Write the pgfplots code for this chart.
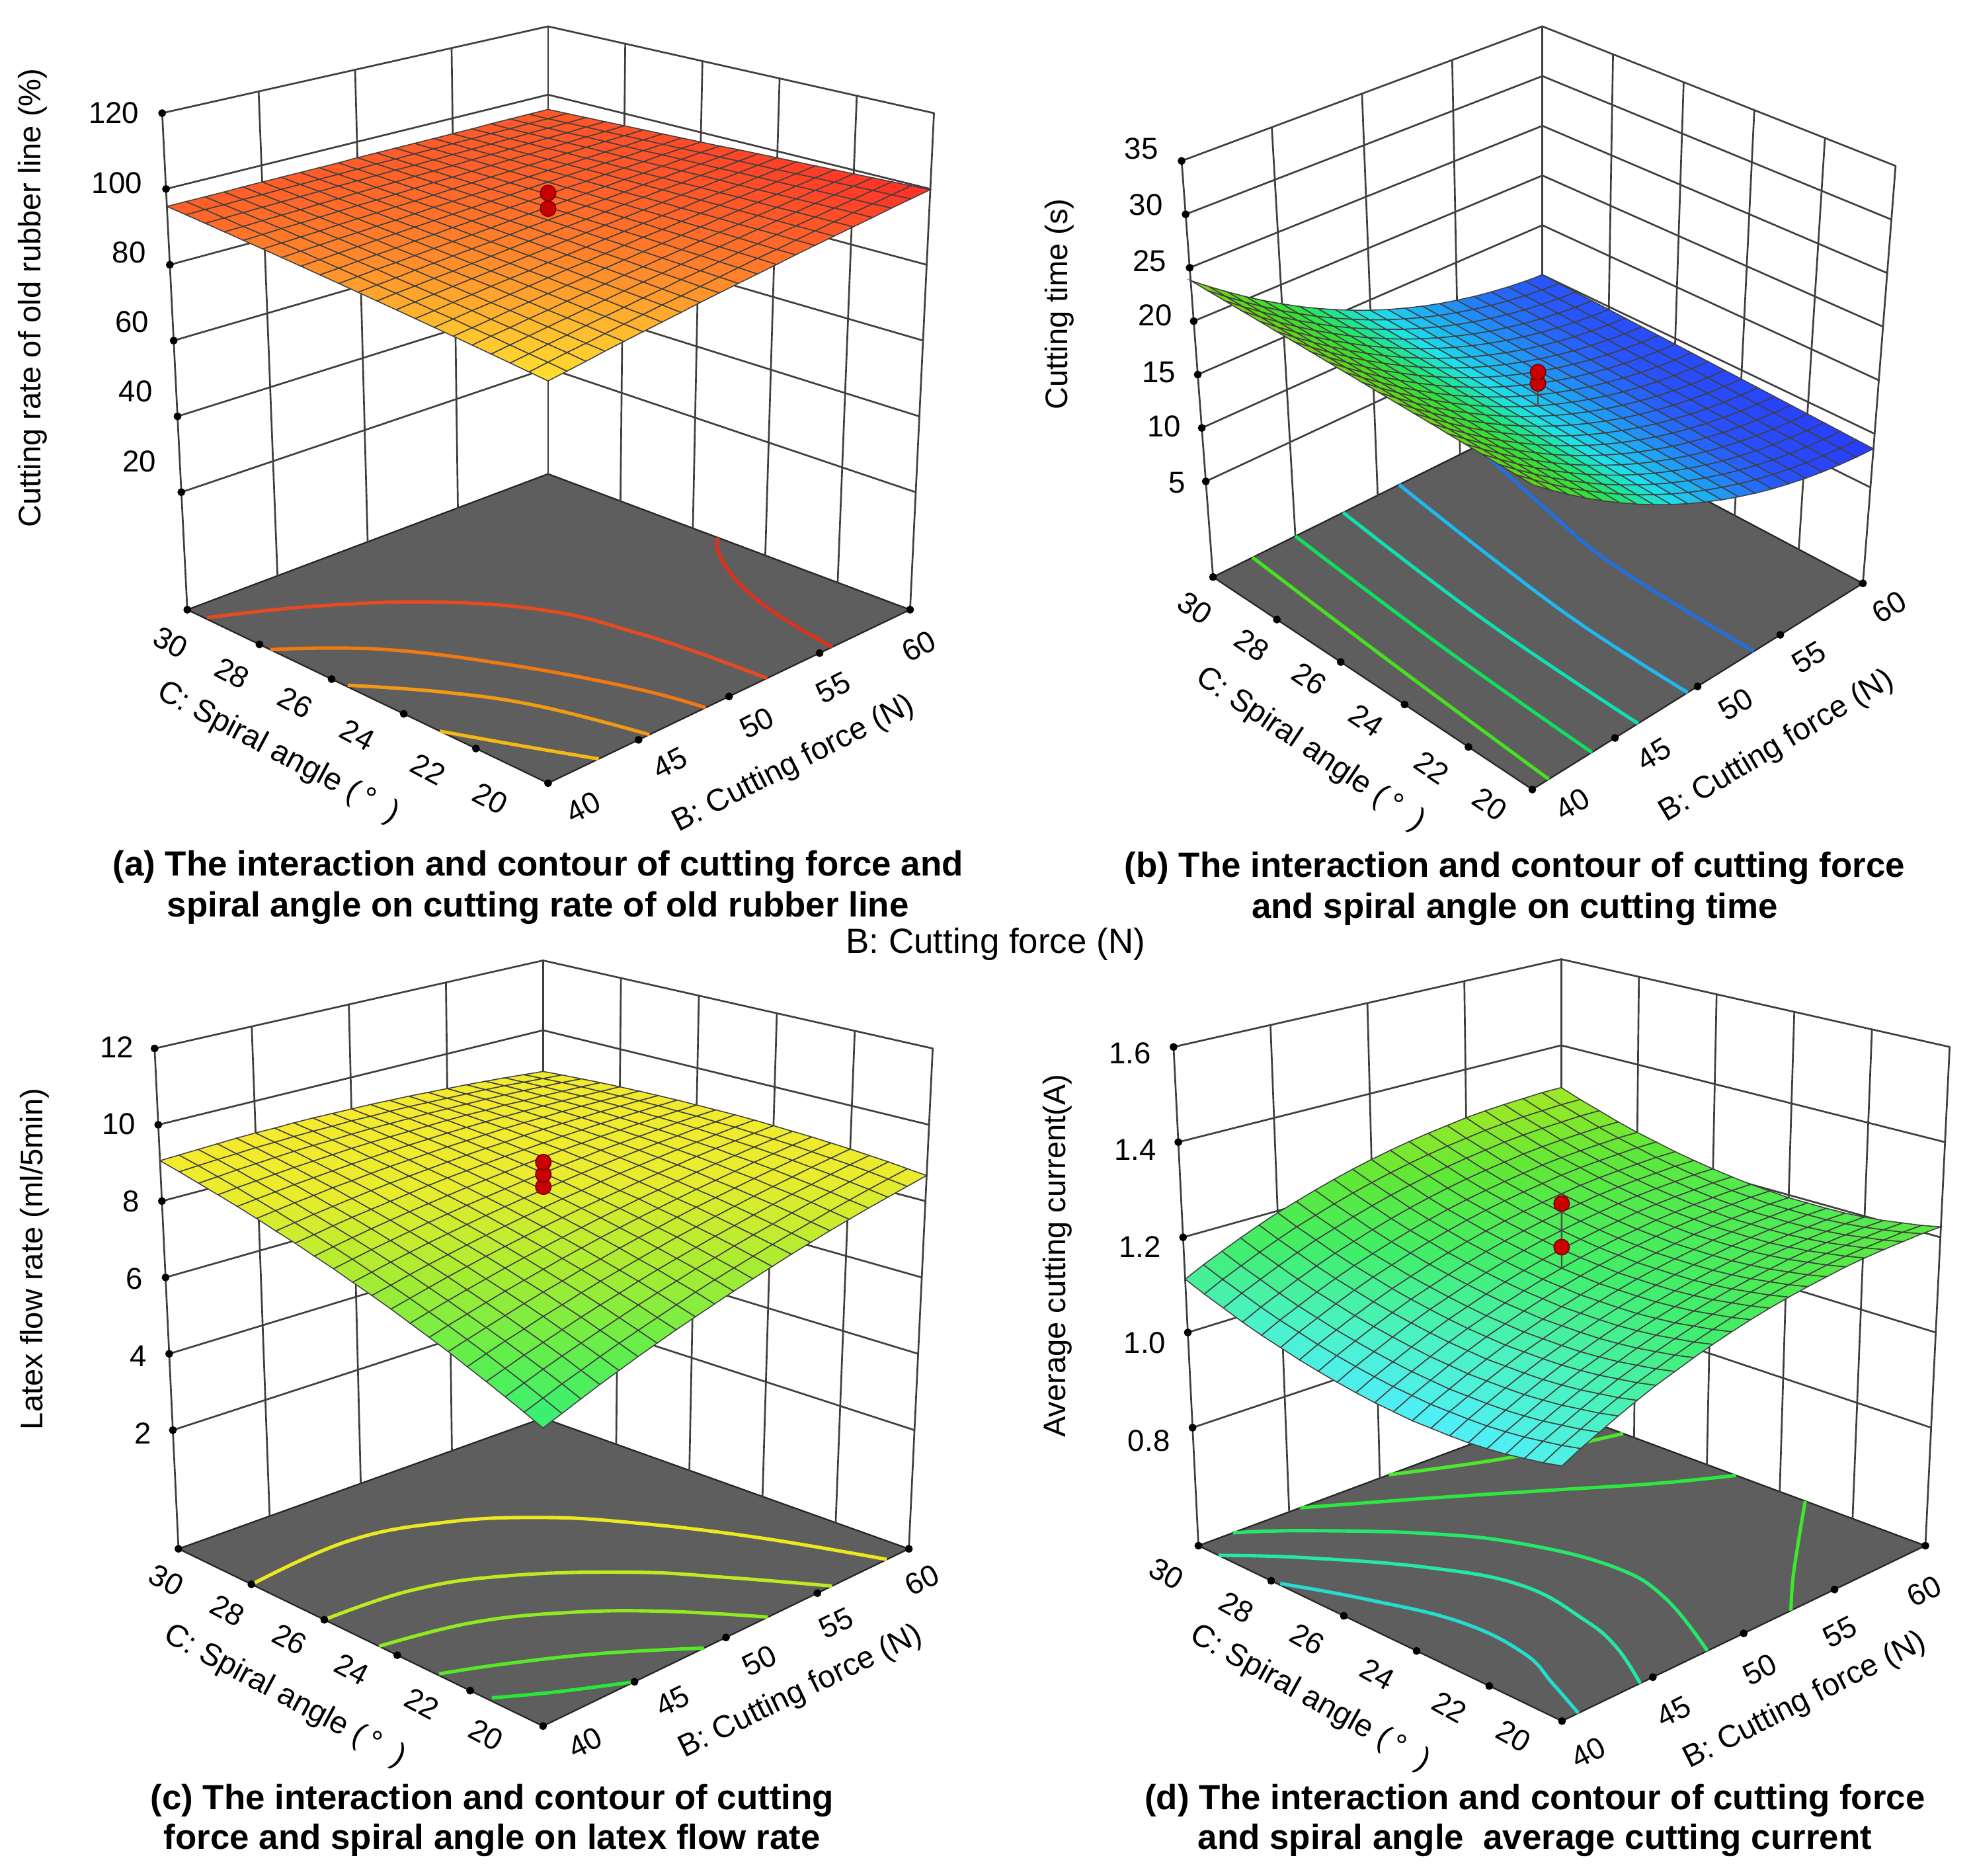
\documentclass[border=0pt]{standalone}
\usepackage{fontspec}
\setmainfont{Liberation Sans}
\usepackage{pgfplots}
\usepackage{pgfplotstable}
\pgfplotsset{compat=1.18}

\newcommand\mkfun[9]{\pgfkeys{/pgf/declare function={#1(\pa,\pb,\pc)=(1-\pc)*((1-\pa)*(1-\pb)*(#2)+\pa*(1-\pb)*(#3)+(1-\pa)*\pb*(#4)+\pa*\pb*(#5))+\pc*((1-\pa)*(1-\pb)*(#6)+\pa*(1-\pb)*(#7)+(1-\pa)*\pb*(#8)+\pa*\pb*(#9));}}}
\mkfun{aX}{436}{724}{149}{436}{436}{743}{129}{436}
\mkfun{aY}{623}{485}{485}{377}{179}{90}{90}{21}
\mkfun{bX}{1219}{1482}{965}{1227}{1220}{1508}{940}{1227}
\mkfun{bY}{628}{464}{459}{329}{270}{132}{128}{21}
\mkfun{cX}{432}{723}{142}{432}{432}{742}{123}{432}
\mkfun{cY}{1373}{1232}{1232}{1128}{934}{834}{834}{764}
\mkfun{dX}{1242.6}{1531.7}{953.4}{1242}{1242.5}{1551}{933.6}{1242}
\mkfun{dY}{1369}{1229.5}{1229.5}{1122}{926}{832.8}{832.8}{763}

\definecolor{floorgray}{RGB}{94,94,94}
\definecolor{gridgray}{RGB}{62,62,62}
\definecolor{ptred}{RGB}{200,0,0}

\pgfplotsset{
 colormap={cmA}{rgb255=(255,225,50) rgb255=(255,185,45) rgb255=(255,135,42) rgb255=(255,90,40) rgb255=(255,45,40)},
 colormap={cmB}{rgb255=(40,50,250) rgb255=(40,85,250) rgb255=(30,165,245) rgb255=(30,225,235) rgb255=(30,230,130) rgb255=(50,225,60) rgb255=(70,220,35) rgb255=(100,215,20) rgb255=(130,215,20)},
 colormap={cmC}{rgb255=(50,240,120) rgb255=(100,238,75) rgb255=(165,236,50) rgb255=(232,236,45) rgb255=(255,232,45)},
 colormap={cmD}{rgb255=(80,238,255) rgb255=(75,242,195) rgb255=(65,238,105) rgb255=(95,232,55) rgb255=(170,232,35)},
 table/faz/.style={header=false,row sep=crcr,
  x expr={\pn X((\thisrowno{0}-40)/20,(\thisrowno{1}-20)/10,(\thisrowno{2}-(\ZF))/\ZS)},
  y expr={\pn Y((\thisrowno{0}-40)/20,(\thisrowno{1}-20)/10,(\thisrowno{2}-(\ZF))/\ZS)}},
 table/fa/.style={header=false,row sep=crcr,
  x expr={\pn X((\thisrowno{0}-40)/20,(\thisrowno{1}-20)/10,0)},
  y expr={\pn Y((\thisrowno{0}-40)/20,(\thisrowno{1}-20)/10,0)}},
 table/grid/.style={x index=0,y index=0,z index=0,
  x expr={\pn X((\coordindex-21*floor((\coordindex+0.5)/21))/20,floor((\coordindex+0.5)/21)/20,(\thisrowno{0}-(\ZF))/\ZS)},
  y expr={\pn Y((\coordindex-21*floor((\coordindex+0.5)/21))/20,floor((\coordindex+0.5)/21)/20,(\thisrowno{0}-(\ZF))/\ZS)}},
 panel/.style={scale only axis,width=392pt,height=373pt,anchor=south west,hide axis,clip=false,
  y dir=reverse,view={0}{90},enlargelimits=false},
 gridl/.style={draw=gridgray,line width=.7pt,mark=none,line cap=round},
 cont/.style={line width=1.35pt,mark=none,smooth,tension=0.7,draw={#1}},
 srf/.style={surf,shader=faceted,faceted color=black!75,line width=.4pt,mesh/cols=21,mesh/ordering=x varies},
}
\newcommand\tickfont{\fontsize{12}{14}\selectfont}
\newcommand\lab[4]{\node[rotate=#3,font=\tickfont,inner sep=0pt] at (axis cs:#1,#2){#4};}
\newcommand\tlab[4]{\node[rotate=#3,font=\fontsize{12.4}{14}\selectfont,inner sep=0pt] at (axis cs:#1,#2){#4};}
\newcommand\ttl[3]{\node[font=\fontsize{13.9}{16}\selectfont\bfseries,inner sep=0pt] at (axis cs:#1,#2){#3};}
\newcommand\spiral{C: Spiral angle (\,°\ \ )}

% zf, ztop, list of z ticks
\newcommand\walls[3]{%
 \addplot[fill=floorgray,draw=black!85,line width=.6pt,mark=none] table[faz]{40 20 #1\\60 20 #1\\60 30 #1\\40 30 #1\\40 20 #1\\};
 \pgfplotsinvokeforeach{40,45,50,55,60}{\addplot[gridl] table[faz]{##1 30 #1\\##1 30 #2\\};}
 \pgfplotsinvokeforeach{20,22,24,26,28}{\addplot[gridl] table[faz]{60 ##1 #1\\60 ##1 #2\\};}
 \pgfplotsinvokeforeach{#3,#2}{\addplot[gridl] table[faz]{40 30 ##1\\60 30 ##1\\60 20 ##1\\};
   \addplot[only marks,mark=*,mark size=1.35pt,black] table[faz]{40 30 ##1\\};}
 \addplot[only marks,mark=*,mark size=1.35pt,black] table[fa]{40 30\\40 28\\40 26\\40 24\\40 22\\40 20\\45 20\\50 20\\55 20\\60 20\\};
}
\newcommand\redpts[1]{\addplot[only marks,mark=*,mark size=3.1pt,draw=red!45!black,fill=ptred,line width=.4pt] table[faz]{#1};}

\pgfplotstableread[row sep=crcr,header=false]{
83.4\\84.2\\85.0\\85.9\\86.7\\87.5\\88.3\\89.1\\90.0\\90.8\\91.6\\92.4\\93.2\\94.1\\94.9\\95.7\\96.5\\97.3\\98.2\\99.0\\99.8\\
84.0\\84.8\\85.6\\86.3\\87.1\\87.9\\88.7\\89.5\\90.2\\91.0\\91.8\\92.6\\93.4\\94.1\\94.9\\95.7\\96.5\\97.3\\98.0\\98.8\\99.6\\
84.6\\85.3\\86.1\\86.8\\87.6\\88.3\\89.0\\89.8\\90.5\\91.3\\92.0\\92.7\\93.5\\94.2\\95.0\\95.7\\96.4\\97.2\\97.9\\98.7\\99.4\\
85.2\\85.9\\86.6\\87.3\\88.0\\88.7\\89.4\\90.1\\90.8\\91.5\\92.2\\92.9\\93.6\\94.3\\95.0\\95.7\\96.4\\97.1\\97.8\\98.5\\99.2\\
85.8\\86.5\\87.1\\87.8\\88.4\\89.1\\89.8\\90.4\\91.1\\91.7\\92.4\\93.0\\93.7\\94.4\\95.0\\95.7\\96.3\\97.0\\97.7\\98.3\\99.0\\
86.4\\87.0\\87.6\\88.3\\88.9\\89.5\\90.1\\90.7\\91.4\\92.0\\92.6\\93.2\\93.8\\94.4\\95.1\\95.7\\96.3\\96.9\\97.5\\98.2\\98.8\\
87.0\\87.6\\88.2\\88.7\\89.3\\89.9\\90.5\\91.1\\91.6\\92.2\\92.8\\93.4\\93.9\\94.5\\95.1\\95.7\\96.3\\96.8\\97.4\\98.0\\98.6\\
87.6\\88.1\\88.7\\89.2\\89.8\\90.3\\90.8\\91.4\\91.9\\92.4\\93.0\\93.5\\94.1\\94.6\\95.1\\95.7\\96.2\\96.7\\97.3\\97.8\\98.4\\
88.2\\88.7\\89.2\\89.7\\90.2\\90.7\\91.2\\91.7\\92.2\\92.7\\93.2\\93.7\\94.2\\94.7\\95.2\\95.7\\96.2\\96.7\\97.2\\97.7\\98.2\\
88.8\\89.3\\89.7\\90.2\\90.6\\91.1\\91.5\\92.0\\92.5\\92.9\\93.4\\93.8\\94.3\\94.8\\95.2\\95.7\\96.1\\96.6\\97.0\\97.5\\98.0\\
89.4\\89.8\\90.2\\90.7\\91.1\\91.5\\91.9\\92.3\\92.7\\93.2\\93.6\\94.0\\94.4\\94.8\\95.2\\95.7\\96.1\\96.5\\96.9\\97.3\\97.8\\
90.0\\90.4\\90.8\\91.1\\91.5\\91.9\\92.3\\92.6\\93.0\\93.4\\93.8\\94.1\\94.5\\94.9\\95.3\\95.7\\96.0\\96.4\\96.8\\97.2\\97.5\\
90.6\\90.9\\91.3\\91.6\\91.9\\92.3\\92.6\\93.0\\93.3\\93.6\\94.0\\94.3\\94.6\\95.0\\95.3\\95.7\\96.0\\96.3\\96.7\\97.0\\97.3\\
91.2\\91.5\\91.8\\92.1\\92.4\\92.7\\93.0\\93.3\\93.6\\93.9\\94.2\\94.5\\94.8\\95.1\\95.4\\95.7\\96.0\\96.2\\96.5\\96.8\\97.1\\
91.8\\92.1\\92.3\\92.6\\92.8\\93.1\\93.3\\93.6\\93.9\\94.1\\94.4\\94.6\\94.9\\95.1\\95.4\\95.6\\95.9\\96.2\\96.4\\96.7\\96.9\\
92.4\\92.6\\92.8\\93.0\\93.3\\93.5\\93.7\\93.9\\94.1\\94.3\\94.6\\94.8\\95.0\\95.2\\95.4\\95.6\\95.9\\96.1\\96.3\\96.5\\96.7\\
93.0\\93.2\\93.4\\93.5\\93.7\\93.9\\94.1\\94.2\\94.4\\94.6\\94.8\\94.9\\95.1\\95.3\\95.5\\95.6\\95.8\\96.0\\96.2\\96.3\\96.5\\
93.6\\93.7\\93.9\\94.0\\94.1\\94.3\\94.4\\94.6\\94.7\\94.8\\95.0\\95.1\\95.2\\95.4\\95.5\\95.6\\95.8\\95.9\\96.0\\96.2\\96.3\\
94.2\\94.3\\94.4\\94.5\\94.6\\94.7\\94.8\\94.9\\95.0\\95.1\\95.2\\95.2\\95.3\\95.4\\95.5\\95.6\\95.7\\95.8\\95.9\\96.0\\96.1\\
94.8\\94.9\\94.9\\95.0\\95.0\\95.1\\95.1\\95.2\\95.2\\95.3\\95.4\\95.4\\95.5\\95.5\\95.6\\95.6\\95.7\\95.7\\95.8\\95.8\\95.9\\
95.4\\95.4\\95.4\\95.4\\95.5\\95.5\\95.5\\95.5\\95.5\\95.5\\95.6\\95.6\\95.6\\95.6\\95.6\\95.6\\95.6\\95.7\\95.7\\95.7\\95.7\\
}\tabA
\pgfplotstableread[row sep=crcr,header=false]{
22.40\\21.16\\19.98\\18.85\\17.78\\16.78\\15.82\\14.93\\14.10\\13.32\\12.60\\11.94\\11.34\\10.79\\10.30\\9.88\\9.50\\9.19\\8.94\\8.74\\8.60\\
22.47\\21.23\\20.05\\18.92\\17.85\\16.85\\15.89\\15.00\\14.17\\13.39\\12.67\\12.01\\11.41\\10.86\\10.37\\9.95\\9.57\\9.26\\9.01\\8.81\\8.67\\
22.54\\21.30\\20.12\\18.99\\17.92\\16.92\\15.96\\15.07\\14.24\\13.46\\12.74\\12.08\\11.48\\10.93\\10.44\\10.02\\9.64\\9.33\\9.08\\8.88\\8.74\\
22.61\\21.37\\20.19\\19.06\\17.99\\16.99\\16.03\\15.14\\14.31\\13.53\\12.81\\12.15\\11.55\\11.00\\10.51\\10.09\\9.71\\9.40\\9.15\\8.95\\8.81\\
22.68\\21.44\\20.26\\19.13\\18.06\\17.06\\16.10\\15.21\\14.38\\13.60\\12.88\\12.22\\11.62\\11.07\\10.58\\10.16\\9.78\\9.47\\9.22\\9.02\\8.88\\
22.75\\21.51\\20.33\\19.20\\18.13\\17.13\\16.17\\15.28\\14.45\\13.67\\12.95\\12.29\\11.69\\11.14\\10.65\\10.23\\9.85\\9.54\\9.29\\9.09\\8.95\\
22.82\\21.58\\20.40\\19.27\\18.20\\17.20\\16.24\\15.35\\14.52\\13.74\\13.02\\12.36\\11.76\\11.21\\10.72\\10.30\\9.92\\9.61\\9.36\\9.16\\9.02\\
22.89\\21.65\\20.47\\19.34\\18.27\\17.27\\16.31\\15.42\\14.59\\13.81\\13.09\\12.43\\11.83\\11.28\\10.79\\10.37\\9.99\\9.68\\9.43\\9.23\\9.09\\
22.96\\21.72\\20.54\\19.41\\18.34\\17.34\\16.38\\15.49\\14.66\\13.88\\13.16\\12.50\\11.90\\11.35\\10.86\\10.44\\10.06\\9.75\\9.50\\9.30\\9.16\\
23.03\\21.79\\20.61\\19.48\\18.41\\17.41\\16.45\\15.56\\14.73\\13.95\\13.23\\12.57\\11.97\\11.42\\10.93\\10.51\\10.13\\9.82\\9.57\\9.37\\9.23\\
23.10\\21.86\\20.68\\19.55\\18.48\\17.48\\16.52\\15.63\\14.80\\14.02\\13.30\\12.64\\12.04\\11.49\\11.00\\10.58\\10.20\\9.89\\9.64\\9.44\\9.30\\
23.17\\21.93\\20.75\\19.62\\18.55\\17.55\\16.59\\15.70\\14.87\\14.09\\13.37\\12.71\\12.11\\11.56\\11.07\\10.65\\10.27\\9.96\\9.71\\9.51\\9.37\\
23.24\\22.00\\20.82\\19.69\\18.62\\17.62\\16.66\\15.77\\14.94\\14.16\\13.44\\12.78\\12.18\\11.63\\11.14\\10.72\\10.34\\10.03\\9.78\\9.58\\9.44\\
23.31\\22.07\\20.89\\19.76\\18.69\\17.69\\16.73\\15.84\\15.01\\14.23\\13.51\\12.85\\12.25\\11.70\\11.21\\10.79\\10.41\\10.10\\9.85\\9.65\\9.51\\
23.38\\22.14\\20.96\\19.83\\18.76\\17.76\\16.80\\15.91\\15.08\\14.30\\13.58\\12.92\\12.32\\11.77\\11.28\\10.86\\10.48\\10.17\\9.92\\9.72\\9.58\\
23.45\\22.21\\21.03\\19.90\\18.83\\17.83\\16.87\\15.98\\15.15\\14.37\\13.65\\12.99\\12.39\\11.84\\11.35\\10.93\\10.55\\10.24\\9.99\\9.79\\9.65\\
23.52\\22.28\\21.10\\19.97\\18.90\\17.90\\16.94\\16.05\\15.22\\14.44\\13.72\\13.06\\12.46\\11.91\\11.42\\11.00\\10.62\\10.31\\10.06\\9.86\\9.72\\
23.59\\22.35\\21.17\\20.04\\18.97\\17.97\\17.01\\16.12\\15.29\\14.51\\13.79\\13.13\\12.53\\11.98\\11.49\\11.07\\10.69\\10.38\\10.13\\9.93\\9.79\\
23.66\\22.42\\21.24\\20.11\\19.04\\18.04\\17.08\\16.19\\15.36\\14.58\\13.86\\13.20\\12.60\\12.05\\11.56\\11.14\\10.76\\10.45\\10.20\\10.00\\9.86\\
23.73\\22.49\\21.31\\20.18\\19.11\\18.11\\17.15\\16.26\\15.43\\14.65\\13.93\\13.27\\12.67\\12.12\\11.63\\11.21\\10.83\\10.52\\10.27\\10.07\\9.93\\
23.80\\22.56\\21.38\\20.25\\19.18\\18.18\\17.22\\16.33\\15.50\\14.72\\14.00\\13.34\\12.74\\12.19\\11.70\\11.28\\10.90\\10.59\\10.34\\10.14\\10.00\\
}\tabB
\pgfplotstableread[row sep=crcr,header=false]{
5.97\\6.14\\6.31\\6.48\\6.64\\6.80\\6.95\\7.10\\7.24\\7.38\\7.52\\7.65\\7.78\\7.91\\8.03\\8.15\\8.26\\8.37\\8.47\\8.57\\8.67\\
6.17\\6.33\\6.50\\6.65\\6.81\\6.96\\7.10\\7.24\\7.38\\7.52\\7.65\\7.77\\7.89\\8.01\\8.12\\8.23\\8.34\\8.44\\8.54\\8.63\\8.72\\
6.36\\6.52\\6.68\\6.83\\6.97\\7.11\\7.25\\7.39\\7.52\\7.64\\7.77\\7.88\\8.00\\8.11\\8.21\\8.32\\8.42\\8.51\\8.60\\8.69\\8.77\\
6.55\\6.70\\6.85\\6.99\\7.13\\7.27\\7.40\\7.52\\7.65\\7.77\\7.88\\7.99\\8.10\\8.20\\8.30\\8.40\\8.49\\8.57\\8.66\\8.74\\8.81\\
6.73\\6.88\\7.02\\7.15\\7.29\\7.41\\7.54\\7.66\\7.77\\7.88\\7.99\\8.10\\8.19\\8.29\\8.38\\8.47\\8.55\\8.63\\8.71\\8.78\\8.85\\
6.92\\7.05\\7.18\\7.31\\7.44\\7.56\\7.67\\7.79\\7.89\\8.00\\8.10\\8.19\\8.29\\8.38\\8.46\\8.54\\8.62\\8.69\\8.76\\8.82\\8.88\\
7.09\\7.22\\7.34\\7.46\\7.58\\7.69\\7.80\\7.91\\8.01\\8.11\\8.20\\8.29\\8.37\\8.45\\8.53\\8.60\\8.67\\8.74\\8.80\\8.86\\8.91\\
7.26\\7.38\\7.50\\7.61\\7.72\\7.83\\7.93\\8.03\\8.12\\8.21\\8.30\\8.38\\8.46\\8.53\\8.60\\8.67\\8.73\\8.78\\8.84\\8.89\\8.93\\
7.43\\7.54\\7.65\\7.76\\7.86\\7.96\\8.05\\8.14\\8.23\\8.31\\8.39\\8.46\\8.53\\8.60\\8.66\\8.72\\8.78\\8.83\\8.87\\8.91\\8.95\\
7.59\\7.69\\7.80\\7.90\\7.99\\8.08\\8.17\\8.25\\8.33\\8.41\\8.48\\8.54\\8.61\\8.67\\8.72\\8.77\\8.82\\8.86\\8.90\\8.94\\8.97\\
7.74\\7.84\\7.94\\8.03\\8.12\\8.20\\8.28\\8.36\\8.43\\8.50\\8.56\\8.62\\8.68\\8.73\\8.78\\8.82\\8.86\\8.89\\8.93\\8.95\\8.98\\
7.90\\7.99\\8.08\\8.16\\8.24\\8.32\\8.39\\8.46\\8.52\\8.58\\8.64\\8.69\\8.74\\8.78\\8.83\\8.86\\8.89\\8.92\\8.95\\8.97\\8.98\\
8.04\\8.13\\8.21\\8.29\\8.36\\8.43\\8.49\\8.55\\8.61\\8.66\\8.71\\8.76\\8.80\\8.84\\8.87\\8.90\\8.92\\8.94\\8.96\\8.97\\8.98\\
8.19\\8.26\\8.34\\8.41\\8.47\\8.53\\8.59\\8.65\\8.70\\8.74\\8.78\\8.82\\8.85\\8.88\\8.91\\8.93\\8.95\\8.96\\8.97\\8.98\\8.98\\
8.32\\8.39\\8.46\\8.52\\8.58\\8.64\\8.69\\8.73\\8.77\\8.81\\8.85\\8.88\\8.90\\8.93\\8.95\\8.96\\8.97\\8.98\\8.98\\8.98\\8.97\\
8.46\\8.52\\8.58\\8.63\\8.69\\8.73\\8.78\\8.82\\8.85\\8.88\\8.91\\8.93\\8.95\\8.97\\8.98\\8.98\\8.99\\8.99\\8.98\\8.97\\8.96\\
8.59\\8.64\\8.69\\8.74\\8.78\\8.82\\8.86\\8.89\\8.92\\8.94\\8.96\\8.98\\8.99\\9.00\\9.00\\9.00\\9.00\\8.99\\8.98\\8.96\\8.94\\
8.71\\8.76\\8.80\\8.84\\8.88\\8.91\\8.94\\8.97\\8.99\\9.00\\9.01\\9.02\\9.03\\9.03\\9.02\\9.02\\9.00\\8.99\\8.97\\8.95\\8.92\\
8.83\\8.87\\8.91\\8.94\\8.97\\9.00\\9.02\\9.03\\9.05\\9.06\\9.06\\9.06\\9.06\\9.05\\9.04\\9.03\\9.01\\8.99\\8.96\\8.93\\8.89\\
8.95\\8.98\\9.01\\9.03\\9.06\\9.07\\9.09\\9.10\\9.10\\9.11\\9.10\\9.10\\9.09\\9.07\\9.05\\9.03\\9.01\\8.98\\8.94\\8.90\\8.86\\
9.06\\9.08\\9.10\\9.12\\9.14\\9.15\\9.15\\9.16\\9.16\\9.15\\9.14\\9.13\\9.11\\9.09\\9.06\\9.03\\9.00\\8.96\\8.92\\8.87\\8.82\\
}\tabC
\pgfplotstableread[row sep=crcr,header=false]{
1.032\\1.051\\1.068\\1.085\\1.101\\1.116\\1.129\\1.142\\1.154\\1.165\\1.175\\1.184\\1.192\\1.199\\1.205\\1.211\\1.215\\1.218\\1.220\\1.222\\1.222\\
1.024\\1.043\\1.060\\1.077\\1.093\\1.108\\1.121\\1.134\\1.146\\1.157\\1.167\\1.176\\1.184\\1.191\\1.197\\1.203\\1.207\\1.210\\1.212\\1.214\\1.214\\
1.018\\1.037\\1.054\\1.071\\1.087\\1.102\\1.115\\1.128\\1.140\\1.151\\1.161\\1.170\\1.178\\1.185\\1.191\\1.197\\1.201\\1.204\\1.206\\1.208\\1.208\\
1.012\\1.031\\1.048\\1.065\\1.081\\1.096\\1.109\\1.122\\1.134\\1.145\\1.155\\1.164\\1.172\\1.179\\1.185\\1.191\\1.195\\1.198\\1.200\\1.202\\1.202\\
1.008\\1.027\\1.044\\1.061\\1.077\\1.092\\1.105\\1.118\\1.130\\1.141\\1.151\\1.160\\1.168\\1.175\\1.181\\1.187\\1.191\\1.194\\1.196\\1.198\\1.198\\
1.005\\1.024\\1.041\\1.058\\1.074\\1.089\\1.102\\1.115\\1.127\\1.138\\1.148\\1.157\\1.165\\1.172\\1.178\\1.184\\1.188\\1.191\\1.193\\1.195\\1.195\\
1.004\\1.023\\1.040\\1.057\\1.073\\1.088\\1.101\\1.114\\1.126\\1.137\\1.147\\1.156\\1.164\\1.171\\1.177\\1.183\\1.187\\1.190\\1.192\\1.194\\1.194\\
1.004\\1.023\\1.040\\1.057\\1.073\\1.088\\1.101\\1.114\\1.126\\1.137\\1.147\\1.156\\1.164\\1.171\\1.177\\1.183\\1.187\\1.190\\1.192\\1.194\\1.194\\
1.004\\1.023\\1.040\\1.057\\1.073\\1.088\\1.101\\1.114\\1.126\\1.137\\1.147\\1.156\\1.164\\1.171\\1.177\\1.183\\1.187\\1.190\\1.192\\1.194\\1.194\\
1.007\\1.026\\1.043\\1.060\\1.076\\1.091\\1.104\\1.117\\1.129\\1.140\\1.150\\1.159\\1.167\\1.174\\1.180\\1.186\\1.190\\1.193\\1.195\\1.197\\1.197\\
1.010\\1.029\\1.046\\1.063\\1.079\\1.094\\1.107\\1.120\\1.132\\1.143\\1.153\\1.162\\1.170\\1.177\\1.183\\1.189\\1.193\\1.196\\1.198\\1.200\\1.200\\
1.015\\1.034\\1.051\\1.068\\1.084\\1.099\\1.112\\1.125\\1.137\\1.148\\1.158\\1.167\\1.175\\1.182\\1.188\\1.194\\1.198\\1.201\\1.203\\1.205\\1.205\\
1.021\\1.040\\1.057\\1.074\\1.090\\1.105\\1.118\\1.131\\1.143\\1.154\\1.164\\1.173\\1.181\\1.188\\1.194\\1.200\\1.204\\1.207\\1.209\\1.211\\1.211\\
1.028\\1.047\\1.064\\1.081\\1.097\\1.112\\1.125\\1.138\\1.150\\1.161\\1.171\\1.180\\1.188\\1.195\\1.201\\1.207\\1.211\\1.214\\1.216\\1.218\\1.218\\
1.036\\1.055\\1.072\\1.089\\1.105\\1.120\\1.133\\1.146\\1.158\\1.169\\1.179\\1.188\\1.196\\1.203\\1.209\\1.215\\1.219\\1.222\\1.224\\1.226\\1.226\\
1.046\\1.065\\1.082\\1.099\\1.115\\1.130\\1.143\\1.156\\1.168\\1.179\\1.189\\1.198\\1.206\\1.213\\1.219\\1.225\\1.229\\1.232\\1.234\\1.236\\1.236\\
1.056\\1.075\\1.092\\1.109\\1.125\\1.140\\1.153\\1.166\\1.178\\1.189\\1.199\\1.208\\1.216\\1.223\\1.229\\1.235\\1.239\\1.242\\1.244\\1.246\\1.246\\
1.068\\1.087\\1.104\\1.121\\1.137\\1.152\\1.165\\1.178\\1.190\\1.201\\1.211\\1.220\\1.228\\1.235\\1.241\\1.247\\1.251\\1.254\\1.256\\1.258\\1.258\\
1.082\\1.101\\1.118\\1.135\\1.151\\1.166\\1.179\\1.192\\1.204\\1.215\\1.225\\1.234\\1.242\\1.249\\1.255\\1.261\\1.265\\1.268\\1.270\\1.272\\1.272\\
1.096\\1.115\\1.132\\1.149\\1.165\\1.180\\1.193\\1.206\\1.218\\1.229\\1.239\\1.248\\1.256\\1.263\\1.269\\1.275\\1.279\\1.282\\1.284\\1.286\\1.286\\
1.112\\1.131\\1.148\\1.165\\1.181\\1.196\\1.209\\1.222\\1.234\\1.245\\1.255\\1.264\\1.272\\1.279\\1.285\\1.291\\1.295\\1.298\\1.300\\1.302\\1.302\\
}\tabD

\begin{document}
\begin{tikzpicture}
\useasboundingbox (0,0) rectangle (784pt,746pt);
%================= (a)
\def\pn{a}\def\ZF{-11}\def\ZS{131}
\begin{axis}[panel,at={(0pt,373pt)},xmin=0,xmax=784,ymin=0,ymax=746,colormap name=cmA,point meta min=83.4,point meta max=99.8]
\walls{-11}{120}{20,40,60,80,100}
\addplot[cont={rgb,255:red,232;green,74;blue,32}] table[fa]{40.1 29.5\\44.2 28.5\\48.1 27.0\\50.6 25.2\\51.5 23.4\\51.9 21.8\\52.1 20\\};
\addplot[cont={rgb,255:red,240;green,122;blue,16}] table[fa]{40 27.7\\43.3 26.3\\46 24.1\\48 21.6\\48.7 20\\};
\addplot[cont={rgb,255:red,243;green,154;blue,18}] table[fa]{40.1 25.6\\42.5 24.1\\44.3 22.4\\45.6 20\\};
\addplot[cont={rgb,255:red,245;green,184;blue,21}] table[fa]{40 23\\41.4 21.5\\42.8 20\\};
\addplot[cont={rgb,255:red,224;green,48;blue,24}] table[fa]{60 25.3\\59 24.8\\57.5 23.5\\56.4 21.9\\55.7 20\\};
\addplot3[srf] table[grid]{\tabA};
\redpts{50 25 96.6\\50 25 100.7\\}
\lab{90.6}{90}{0}{120}\lab{93}{145.6}{0}{100}\lab{102.7}{201}{0}{80}\lab{105}{256}{0}{60}\lab{108}{311.4}{0}{40}\lab{110.7}{367}{0}{20}
\tlab{26}{237}{90}{Cutting rate of old rubber line (\%)}
\lab{135.9}{511}{-28}{30}\lab{184.7}{535.5}{-28}{28}\lab{235}{559}{-28}{26}\lab{284.3}{584.8}{-28}{24}\lab{340.7}{612}{-28}{22}\lab{390}{635}{-28}{20}
\lab{464}{642}{27}{40}\lab{533}{607}{27}{45}\lab{602}{575}{27}{50}\lab{663}{547}{27}{55}\lab{731}{514}{27}{60}
\tlab{221.4}{599}{-28}{\spiral}\tlab{631.5}{608}{27}{B: Cutting force (N)}
\ttl{428}{689.5}{(a) The interaction and contour of cutting force and}\ttl{428}{722}{spiral angle on cutting rate of old rubber line}
\end{axis}
%================= (b)
\def\pn{b}\def\ZF{-3.95}\def\ZS{38.95}
\begin{axis}[panel,at={(392pt,373pt)},xmin=784,xmax=1568,ymin=0,ymax=746,colormap name=cmB,point meta min=8,point meta max=24]
\walls{-3.95}{35}{5,10,15,20,25,30}
\addplot[cont={rgb,255:red,72;green,224;blue,32}] table[fa]{42.4 30\\41.6 25\\41 20\\};
\addplot[cont={rgb,255:red,16;green,224;blue,96}] table[fa]{45 30\\44.1 25\\43.6 20\\};
\addplot[cont={rgb,255:red,16;green,224;blue,176}] table[fa]{47.9 30\\46.8 25\\46.4 20\\};
\addplot[cont={rgb,255:red,32;green,184;blue,240}] table[fa]{51.3 30\\50.3 26.6\\49.6 23.35\\49.4 20\\};
\addplot[cont={rgb,255:red,32;green,112;blue,224}] table[fa]{56 30\\54.6 27\\53.7 24.45\\53.4 20\\};
\addplot3[srf] table[grid]{\tabB};
\addplot[draw=black!70,line width=.6pt,mark=none] table[faz]{50 25 13.3\\50 25 16.45\\};
\redpts{50 25 15.39\\50 25 16.45\\}
\lab{908}{118}{0}{35}\lab{911.7}{163}{0}{30}\lab{914.7}{207.6}{0}{25}\lab{919}{251}{0}{20}\lab{922}{296}{0}{15}\lab{926}{339}{0}{10}\lab{936.5}{384}{0}{5}
\tlab{842.6}{242}{90}{Cutting time (s)}
\lab{950.5}{483.8}{-34}{30}\lab{996}{513}{-34}{28}\lab{1041.4}{540}{-34}{26}\lab{1087}{573}{-34}{24}\lab{1139}{610.6}{-34}{22}\lab{1185.4}{639.7}{-34}{20}
\lab{1251}{639.7}{31}{40}\lab{1315.6}{600}{31}{45}\lab{1381}{560}{31}{50}\lab{1439}{523}{31}{55}\lab{1503}{483}{31}{60}
\tlab{1042.4}{596.5}{-34}{\spiral}\tlab{1413.5}{594}{31}{B: Cutting force (N)}
\ttl{1205}{690.5}{(b) The interaction and contour of cutting force}\ttl{1205}{723}{and spiral angle on cutting time}
\node[font=\fontsize{13.9}{16}\selectfont,inner sep=0pt] at (axis cs:792,751){B: Cutting force (N)};
\end{axis}
%================= (c)
\def\pn{c}\def\ZF{-1.11}\def\ZS{13.11}
\begin{axis}[panel,at={(0pt,0pt)},xmin=0,xmax=784,ymin=746,ymax=1492,colormap name=cmC,point meta min=6,point meta max=9.5]
\walls{-1.11}{12}{2,4,6,8,10}
\addplot[cont={rgb,255:red,237;green,232;blue,32}] table[fa]{40.1 28\\45.7 28.2\\49.7 27.6\\52.7 26.5\\54.9 25\\57.1 22.7\\58.8 20\\};
\addplot[cont={rgb,255:red,192;green,234;blue,32}] table[fa]{40 26\\44.4 25.8\\48 25\\51.6 23.4\\53.8 21.8\\55.8 20\\};
\addplot[cont={rgb,255:red,144;green,234;blue,32}] table[fa]{40 24.5\\44.1 24\\47.4 23\\50 21.7\\52.3 20\\};
\addplot[cont={rgb,255:red,85;green,234;blue,37}] table[fa]{40.1 22.9\\42.6 22.3\\45.8 21.3\\48.8 20\\};
\addplot[cont={rgb,255:red,37;green,234;blue,53}] table[fa]{40.2 21.5\\42.3 20.8\\45 20\\};
\addplot3[srf] table[grid]{\tabC};
\redpts{50 25 8.64\\50 25 8.96\\50 25 9.28\\}
\lab{93}{832.8}{0}{12}\lab{94.6}{894}{0}{10}\lab{104}{955.7}{0}{8}\lab{107}{1017}{0}{6}\lab{110}{1078.6}{0}{4}\lab{113.7}{1140.3}{0}{2}
\tlab{27.7}{1001.5}{90}{Latex flow rate (ml/5min)}
\lab{132.3}{1257}{-28}{30}\lab{181}{1281}{-28}{28}\lab{230.5}{1304}{-28}{26}\lab{279.8}{1328}{-28}{24}\lab{335.6}{1355}{-28}{22}\lab{386.5}{1380}{-28}{20}
\lab{465.5}{1386}{26}{40}\lab{535}{1353}{26}{45}\lab{604}{1321}{26}{50}\lab{665}{1291}{26}{55}\lab{733.7}{1257}{26}{60}
\tlab{226.4}{1349.5}{-28}{\spiral}\tlab{637}{1346}{26}{B: Cutting force (N)}
\ttl{391.5}{1432}{(c) The interaction and contour of cutting}\ttl{391.5}{1464}{force and spiral angle on latex flow rate}
\end{axis}
%================= (d)
\def\pn{d}\def\ZF{0.552}\def\ZS{1.048}
\begin{axis}[panel,at={(392pt,0pt)},xmin=784,xmax=1568,ymin=746,ymax=1492,colormap name=cmD,point meta min=1.0,point meta max=1.31]
\walls{0.552}{1.6}{0.8,1.0,1.2,1.4}
\addplot[cont={rgb,255:red,37;green,220;blue,208}] table[fa]{40.1 27.8\\41.7 26.2\\43 24.3\\42.9 22.5\\41.9 21.2\\40.9 20\\};
\addplot[cont={rgb,255:red,34;green,232;blue,168}] table[fa]{40 29.45\\42.5 28.3\\45.5 26.4\\47 24.6\\46.6 22.7\\45.8 21.4\\44.3 20\\};
\addplot[cont={rgb,255:red,37;green,232;blue,106}] table[fa]{41.9 30\\44.2 29.2\\47.7 27.5\\49.7 25.9\\50.7 23.9\\50.1 22.2\\48 20\\};
\addplot[cont={rgb,255:red,44;green,232;blue,62}] table[fa]{45.6 30\\50 28.7\\54.1 27.3\\57.3 26.1\\60 25.2\\};
\addplot[cont={rgb,255:red,76;green,232;blue,44}] table[fa]{50.5 30\\55.2 29\\60 28.3\\};
\addplot[cont={rgb,255:red,60;green,232;blue,42}] table[fa]{60 23.3\\57 22\\54.5 20.9\\52.6 20\\};
\addplot3[srf] table[grid]{\tabD};
\addplot[draw=black!70,line width=.6pt,mark=none] table[faz]{50 25 1.153\\50 25 1.288\\};
\redpts{50 25 1.197\\50 25 1.288\\}
\lab{899}{837.6}{0}{1.6}\lab{903}{914.7}{0}{1.4}\lab{906.7}{991.9}{0}{1.2}\lab{910.7}{1068}{0}{1.0}\lab{914}{1146}{0}{0.8}
\tlab{841}{999}{90}{Average cutting current(A)}
\lab{928}{1252}{-29}{30}\lab{983.7}{1278.6}{-29}{28}\lab{1040}{1304}{-29}{26}\lab{1096}{1331.7}{-29}{24}\lab{1153}{1358}{-29}{22}\lab{1204}{1381}{-29}{20}
\lab{1263.4}{1394}{27}{40}\lab{1331.5}{1361.5}{27}{45}\lab{1400}{1328}{27}{50}\lab{1463.7}{1298}{27}{55}\lab{1530.7}{1265.6}{27}{60}
\tlab{1042}{1351}{-29}{\spiral}\tlab{1436}{1353}{27}{B: Cutting force (N)}
\ttl{1221}{1432}{(d) The interaction and contour of cutting force}\ttl{1221}{1464}{and spiral angle\ \ average cutting current}
\end{axis}
\end{tikzpicture}
\end{document}
